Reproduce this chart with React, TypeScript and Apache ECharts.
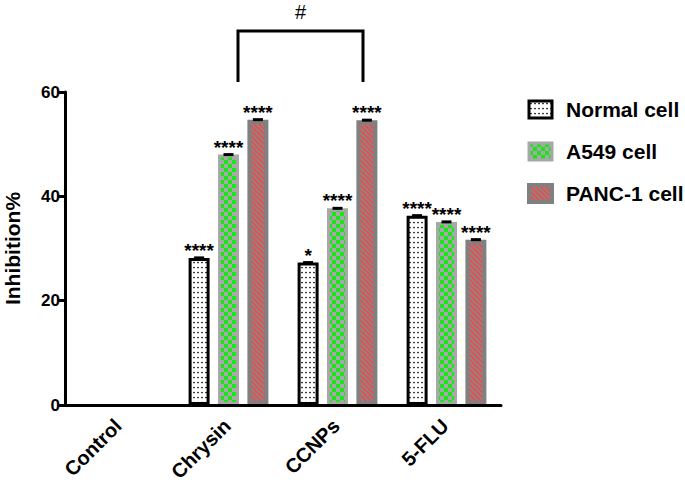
import React, { useEffect, useRef } from 'react';
import * as echarts from 'echarts';

const categories = ['Control', 'Chrysin', 'CCNPs', '5-FLU'];
const seriesNames = ['Normal cell', 'A549 cell', 'PANC-1 cell'];
const normalValues = [0, 28.2, 27.3, 36.3];
const a549Values = [0, 48.0, 37.7, 35.1];
const pancValues = [0, 54.7, 54.6, 31.7];
const normalSig = ['', '****', '*', '****'];
const a549Sig = ['', '****', '****', '****'];
const pancSig = ['', '****', '****', '****'];
const yMin = 0;
const yMax = 60;
const yInterval = 20;
const bracketLabel = '#';
const bracketFrom = 'Chrysin';
const bracketTo = 'CCNPs';

const FONT = '"Liberation Sans", Arial, Helvetica, sans-serif';

function makePattern(w: number, h: number, draw: (ctx: CanvasRenderingContext2D) => void) {
  const c = document.createElement('canvas');
  c.width = w;
  c.height = h;
  const ctx = c.getContext('2d') as CanvasRenderingContext2D;
  draw(ctx);
  return { image: c, repeat: 'repeat', imageWidth: w, imageHeight: h } as any;
}

export default function App() {
  const ref = useRef<HTMLDivElement>(null);

  useEffect(() => {
    document.body.style.margin = '0';
    if (!ref.current) return;
    const chart = echarts.init(ref.current, undefined, { renderer: 'svg' });

    const dots = makePattern(4, 5, (ctx) => {
      ctx.fillStyle = '#ffffff';
      ctx.fillRect(0, 0, 4, 5);
      ctx.fillStyle = '#000000';
      ctx.beginPath();
      ctx.arc(2, 2.5, 0.85, 0, Math.PI * 2);
      ctx.fill();
    });
    const checker = makePattern(8, 8, (ctx) => {
      ctx.fillStyle = '#a8a8a8';
      ctx.fillRect(0, 0, 8, 8);
      ctx.fillStyle = '#19e619';
      ctx.fillRect(0, 0, 4, 4);
      ctx.fillRect(4, 4, 4, 4);
    });
    const stripes = makePattern(5, 5, (ctx) => {
      ctx.fillStyle = '#888888';
      ctx.fillRect(0, 0, 5, 5);
      ctx.strokeStyle = '#f04a4a';
      ctx.lineWidth = 1.7;
      ctx.beginPath();
      ctx.moveTo(-1, -1); ctx.lineTo(6, 6);
      ctx.moveTo(-1, 4); ctx.lineTo(1, 6);
      ctx.moveTo(4, -1); ctx.lineTo(6, 1);
      ctx.stroke();
    });

    const styles = [
      { color: dots, borderColor: '#000000', borderWidth: 3 },
      { color: checker, borderColor: '#a8a8a8', borderWidth: 3 },
      { color: stripes, borderColor: '#808080', borderWidth: 4 },
    ];
    const valueSets = [normalValues, a549Values, pancValues];
    const sigSets = [normalSig, a549Sig, pancSig];

    const series = seriesNames.map((name, si) => ({
      name,
      type: 'bar',
      barWidth: 21,
      barGap: '40%',
      itemStyle: styles[si],
      data: valueSets[si].map((v) =>
        v === 0 ? { value: v, itemStyle: { borderWidth: 0 } } : v
      ),
      label: {
        show: true,
        position: 'top',
        distance: -1.5,
        formatter: (p: any) => {
          const s = sigSets[si][p.dataIndex];
          return s ? '{s|' + s + '}\n{c|}' : '';
        },
        rich: {
          s: { fontFamily: FONT, fontSize: 19, fontWeight: 'bold', color: '#000', lineHeight: 12, align: 'center' },
          c: { width: 10, height: 3, lineHeight: 3, backgroundColor: '#000', align: 'center' },
        },
      },
    }));

    chart.setOption({
      animation: false,
      backgroundColor: '#ffffff',
      grid: { left: 65, right: 184, top: 92, bottom: 82, outerBoundsMode: 'none', containLabel: false },
      legend: {
        orient: 'vertical',
        left: 522,
        top: 94,
        itemWidth: 23,
        itemHeight: 17,
        itemGap: 21,
        icon: 'rect',
        selectedMode: false,
        textStyle: { fontFamily: FONT, fontWeight: 'bold', fontSize: 21, color: '#000', padding: [0, 0, 0, 9] },
        data: seriesNames.map((n, i) => ({ name: n, itemStyle: styles[i] })),
      },
      xAxis: {
        type: 'category',
        data: categories,
        z: 3,
        axisLine: { lineStyle: { color: '#000', width: 3 } },
        axisTick: { alignWithLabel: true, length: 6, lineStyle: { color: '#000', width: 3 } },
        axisLabel: {
          interval: 0,
          rotate: 45,
          margin: 16,
          padding: [0, 2, 0, 0],
          fontFamily: FONT,
          fontWeight: 'bold',
          fontSize: 20,
          color: '#000',
        },
      },
      yAxis: {
        type: 'value',
        min: yMin,
        max: yMax,
        interval: yInterval,
        name: 'Inhibition%',
        nameLocation: 'middle',
        nameGap: 42,
        nameTextStyle: { fontFamily: FONT, fontWeight: 'bold', fontSize: 21, color: '#000' },
        splitLine: { show: false },
        axisLine: { show: true, lineStyle: { color: '#000', width: 3 } },
        axisTick: { show: true, length: 6, lineStyle: { color: '#000', width: 3 } },
        axisLabel: { margin: 5, fontFamily: FONT, fontWeight: 'bold', fontSize: 17, color: '#000' },
      },
      series,
    });

    const xa = chart.convertToPixel({ xAxisIndex: 0 }, bracketFrom) as number;
    const xb = chart.convertToPixel({ xAxisIndex: 0 }, bracketTo) as number;
    const yTop = chart.convertToPixel({ yAxisIndex: 0 }, yMax) as number;
    const left = xa + 9.5;
    const right = xb + 25.5;
    const top = yTop - 61;
    const bottom = yTop - 10;
    chart.setOption({
      graphic: [
        {
          type: 'polyline',
          shape: { points: [[left, bottom], [left, top], [right, top], [right, bottom]] },
          style: { stroke: '#000', lineWidth: 3, fill: 'none' },
        },
        {
          type: 'text',
          x: (left + right) / 2,
          y: top - 19,
          style: {
            text: bracketLabel,
            fontFamily: FONT,
            fontSize: 20,
            fill: '#000',
            align: 'center',
            verticalAlign: 'middle',
          },
        },
      ],
    });

    return () => chart.dispose();
  }, []);

  return <div ref={ref} style={{ width: 685, height: 487 }} />;
}
